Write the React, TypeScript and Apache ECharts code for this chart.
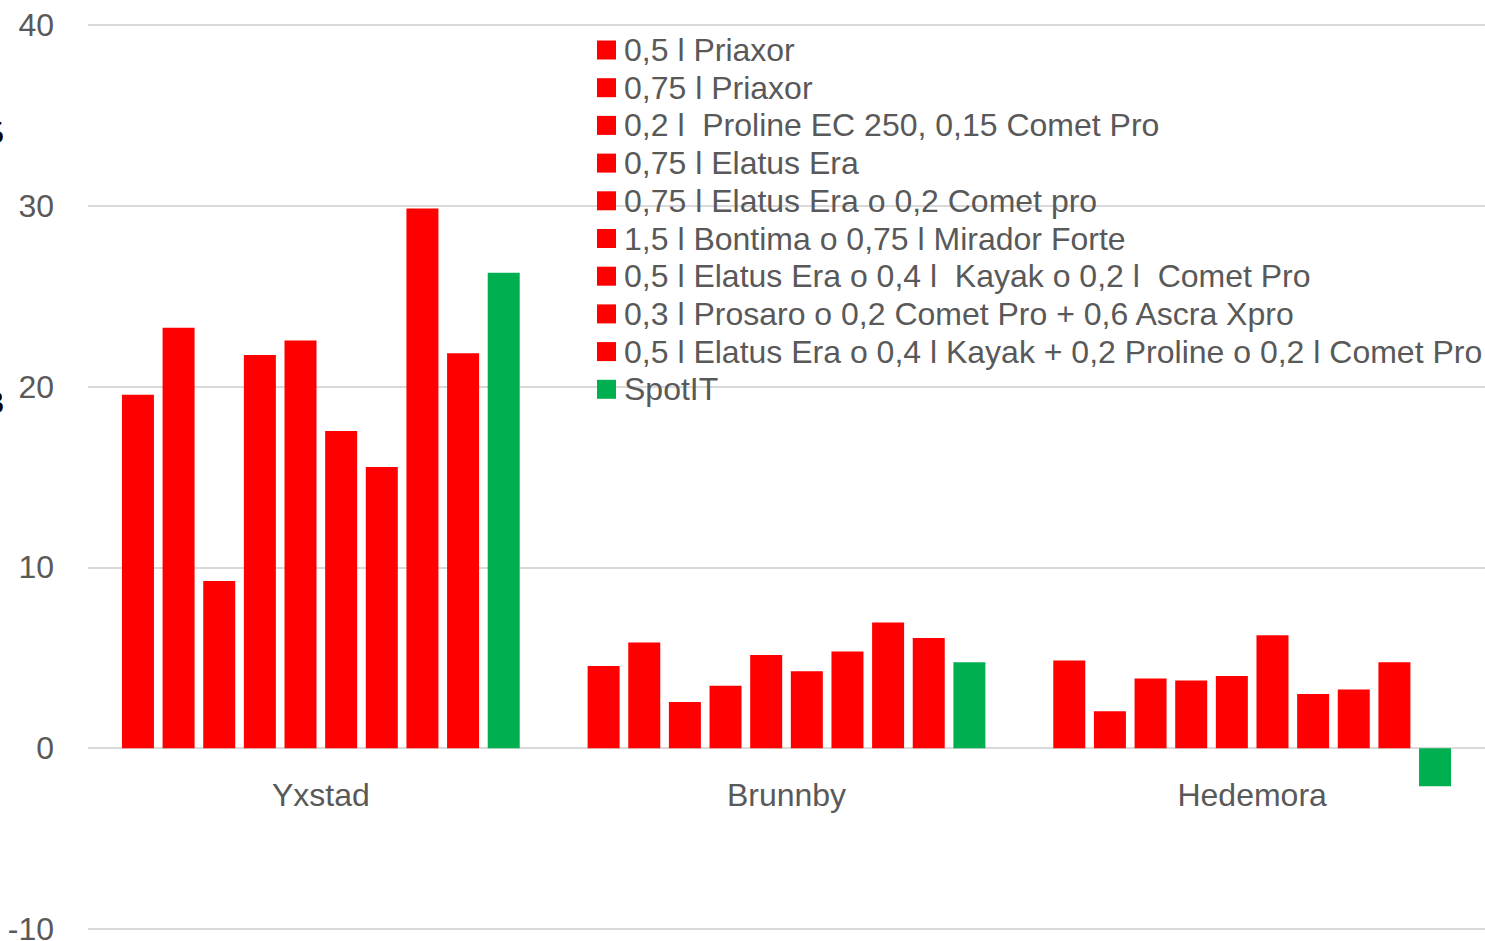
import React, { useEffect, useRef } from "react";
import * as echarts from "echarts";

const categories = ["Yxstad", "Brunnby", "Hedemora"];
const seriesNames = [
  "0,5 l Priaxor",
  "0,75 l Priaxor",
  "0,2 l  Proline EC 250, 0,15 Comet Pro",
  "0,75 l Elatus Era",
  "0,75 l Elatus Era o 0,2 Comet pro",
  "1,5 l Bontima o 0,75 l Mirador Forte",
  "0,5 l Elatus Era o 0,4 l  Kayak o 0,2 l  Comet Pro",
  "0,3 l Prosaro o 0,2 Comet Pro + 0,6 Ascra Xpro",
  "0,5 l Elatus Era o 0,4 l Kayak + 0,2 Proline o 0,2 l Comet Pro",
  "SpotIT",
];
// values per series: [Yxstad, Brunnby, Hedemora]
const s1 = [19.55, 4.55, 4.85];
const s2 = [23.25, 5.85, 2.05];
const s3 = [9.25, 2.55, 3.85];
const s4 = [21.75, 3.45, 3.75];
const s5 = [22.55, 5.15, 4.0];
const s6 = [17.55, 4.25, 6.25];
const s7 = [15.55, 5.35, 3.0];
const s8 = [29.85, 6.95, 3.25];
const s9 = [21.85, 6.1, 4.75];
const s10 = [26.3, 4.75, -2.1];
const seriesValues = [s1, s2, s3, s4, s5, s6, s7, s8, s9, s10];
const seriesColors = [
  "#FF0000", "#FF0000", "#FF0000", "#FF0000", "#FF0000",
  "#FF0000", "#FF0000", "#FF0000", "#FF0000", "#00B050",
];
const yMin = -10;
const yMax = 40;
const yInterval = 10;

const FONT = "'Liberation Sans', Arial, sans-serif";
const TEXT_COLOR = "#595959";

export default function App() {
  const ref = useRef<HTMLDivElement>(null);
  useEffect(() => {
    if (!ref.current) return;
    const chart = echarts.init(ref.current, undefined, { renderer: "svg" });
    chart.setOption({
      animation: false,
      backgroundColor: "#ffffff",
      textStyle: { fontFamily: FONT },
      grid: {
        left: 88,
        right: 0,
        top: 25,
        bottom: 12,
        containLabel: false,
        outerBoundsMode: "none",
      },
      legend: {
        orient: "vertical",
        left: 597,
        top: 34,
        padding: 0,
        itemWidth: 19,
        itemHeight: 19,
        itemGap: 5.7,
        icon: "rect",
        selectedMode: false,
        textStyle: {
          fontFamily: FONT,
          fontSize: 32,
          color: TEXT_COLOR,
          lineHeight: 30,
          padding: [0, 0, 0, 3],
        },
        data: seriesNames,
      },
      xAxis: {
        type: "category",
        data: categories,
        offset: -181,
        axisLine: { show: false, onZero: false },
        axisTick: { show: false },
        axisLabel: {
          fontFamily: FONT,
          fontSize: 32,
          color: TEXT_COLOR,
          margin: 31,
        },
      },
      yAxis: {
        type: "value",
        min: yMin,
        max: yMax,
        interval: yInterval,
        axisLine: { show: false },
        axisTick: { show: false },
        splitLine: { show: true, lineStyle: { color: "#d9d9d9", width: 2 } },
        axisLabel: {
          fontFamily: FONT,
          fontSize: 32,
          color: TEXT_COLOR,
          margin: 34,
        },
      },
      graphic: [
        {
          type: "text",
          left: -12,
          top: 116,
          style: { text: "5", font: "32px 'Liberation Serif', serif", fill: "#000000" },
        },
        {
          type: "text",
          left: -12,
          top: 386,
          style: { text: "3", font: "32px 'Liberation Serif', serif", fill: "#000000" },
        },
      ],
      series: seriesNames.map((name, i) => ({
        name,
        type: "bar",
        data: seriesValues[i],
        barWidth: 32,
        barGap: "27%",
        itemStyle: { color: seriesColors[i] },
      })),
    });
    return () => chart.dispose();
  }, []);
  return (
    <div
      ref={ref}
      style={{ position: "fixed", left: 0, top: 0, width: 1485, height: 941 }}
    />
  );
}
